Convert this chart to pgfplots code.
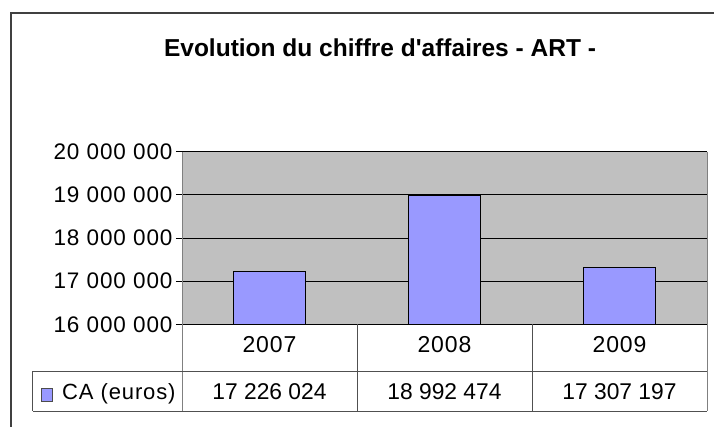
\documentclass[border=0pt]{standalone}
\usepackage{pgfplots}
\pgfplotsset{compat=1.18}
\usepackage{fontspec}
\setmainfont{Liberation Sans}
\newfontfamily\widefont[LetterSpace=4]{Liberation Sans}
\definecolor{barfill}{HTML}{9999FF}
\definecolor{plotbg}{HTML}{C0C0C0}
\definecolor{framec}{HTML}{404040}
\definecolor{tablec}{HTML}{505050}
\begin{document}
\begin{tikzpicture}[x=1pt,y=1pt]
\useasboundingbox (0,0) rectangle (714,426);
\draw[framec, line width=1.5pt] (11,413) rectangle (760,-40);
\node[anchor=base, font=\fontsize{24.5}{28}\selectfont\bfseries] at (380,369) {Evolution du chiffre d\textquotesingle affaires - ART -};
\begin{axis}[
  at={(182pt,101.7pt)}, anchor=south west,
  scale only axis, width=525pt, height=172.6pt,
  xmin=-0.5, xmax=2.5, ymin=16000000, ymax=20000000,
  axis background/.style={fill=plotbg},
  axis line style={draw=none},
  scaled y ticks=false,
  xtick=\empty,
  ytick={16000000,17000000,18000000,19000000,20000000},
  yticklabels={16 000 000,17 000 000,18 000 000,19 000 000,20 000 000},
  ytick pos=left,
  ymajorgrids, grid style={black, line width=0.8pt},
  tick align=outside, major tick length=6pt,
  ytick style={black, line width=0.8pt},
  yticklabel style={font=\widefont\fontsize{22.5}{26}\selectfont},
  clip=false,
  ybar, bar width=72pt, bar shift=0pt,
]
\addplot[fill=barfill, draw=black, line width=0.8pt] coordinates {(0,17226024) (1,18992474) (2,17307197)};
% plot frame sides
\draw[gray, line width=1pt] (axis cs:-0.5,20000000) -- ([yshift=-86.7pt]axis cs:-0.5,16000000);
\draw[gray, line width=1pt] (axis cs:2.5,20000000) -- ([yshift=-86.7pt]axis cs:2.5,16000000);
\draw[tablec, line width=1pt] (axis cs:0.5,16000000) -- ([yshift=-86.7pt]axis cs:0.5,16000000);
\draw[tablec, line width=1pt] (axis cs:1.5,16000000) -- ([yshift=-86.7pt]axis cs:1.5,16000000);
% table horizontals
\draw[tablec, line width=1pt] ([xshift=-149pt,yshift=-46.7pt]axis cs:-0.5,16000000) -- ([yshift=-46.7pt]axis cs:2.5,16000000);
\draw[tablec, line width=1pt] ([xshift=-149pt,yshift=-86.7pt]axis cs:-0.5,16000000) -- ([yshift=-86.7pt]axis cs:2.5,16000000);
\draw[tablec, line width=1pt] ([xshift=-149pt,yshift=-46.7pt]axis cs:-0.5,16000000) -- ([xshift=-149pt,yshift=-86.7pt]axis cs:-0.5,16000000);
% years
\node[anchor=base, font=\widefont\fontsize{23}{26}\selectfont] at ([yshift=-27.7pt]axis cs:0,16000000) {2007};
\node[anchor=base, font=\widefont\fontsize{23}{26}\selectfont] at ([yshift=-27.7pt]axis cs:1,16000000) {2008};
\node[anchor=base, font=\widefont\fontsize{23}{26}\selectfont] at ([yshift=-27.7pt]axis cs:2,16000000) {2009};
% values
\node[anchor=base, font=\fontsize{22.8}{26}\selectfont] at ([yshift=-74.7pt]axis cs:0,16000000) {17 226 024};
\node[anchor=base, font=\fontsize{22.8}{26}\selectfont] at ([yshift=-74.7pt]axis cs:1,16000000) {18 992 474};
\node[anchor=base, font=\fontsize{22.8}{26}\selectfont] at ([yshift=-74.7pt]axis cs:2,16000000) {17 307 197};
\end{axis}
% legend cell
\draw[black!70, fill=barfill, line width=0.6pt] (41,25) rectangle (52,38);
\node[anchor=base west, inner sep=0pt, font=\widefont\fontsize{22}{26}\selectfont] at (62,27) {CA (euros)};
\end{tikzpicture}
\end{document}
